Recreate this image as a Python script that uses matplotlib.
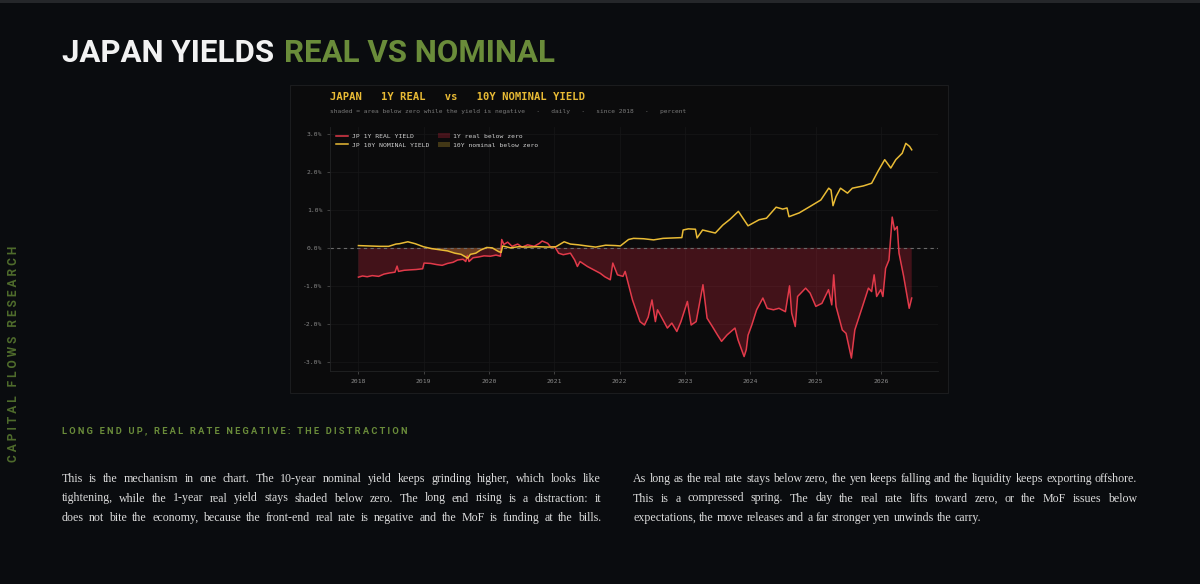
import matplotlib
matplotlib.use("Agg")
import matplotlib.pyplot as plt
import matplotlib.dates as mdates
import pandas as pd
from matplotlib.patches import Rectangle
from matplotlib.ticker import FuncFormatter

# JP 1Y real yield (percent)
real_dates = [
    "2018-01-02", "2018-01-25", "2018-02-20", "2018-03-20", "2018-04-25", "2018-05-25",
    "2018-06-25", "2018-07-25", "2018-08-06", "2018-08-14", "2018-09-15", "2018-10-15",
    "2018-11-20", "2018-12-27", "2019-01-04", "2019-02-10", "2019-03-15", "2019-04-15",
    "2019-05-15", "2019-06-15", "2019-07-10", "2019-08-10", "2019-08-25", "2019-09-03",
    "2019-09-12", "2019-10-05", "2019-11-05", "2019-12-05", "2020-01-10", "2020-02-10",
    "2020-03-06", "2020-03-13", "2020-03-25", "2020-04-15", "2020-05-10", "2020-06-10",
    "2020-07-05", "2020-08-05", "2020-09-10", "2020-10-10", "2020-10-25", "2020-11-25",
    "2020-12-10", "2021-01-05", "2021-01-25", "2021-02-20", "2021-04-01", "2021-04-25",
    "2021-05-10", "2021-05-25", "2021-07-05", "2021-08-10", "2021-09-15", "2021-10-10",
    "2021-11-10", "2021-11-24", "2021-12-20", "2022-01-20", "2022-02-01", "2022-03-14",
    "2022-04-25", "2022-05-20", "2022-06-10", "2022-07-01", "2022-07-20", "2022-08-01",
    "2022-09-25", "2022-10-20", "2022-11-17", "2022-12-10", "2023-01-15", "2023-02-05",
    "2023-03-05", "2023-04-12", "2023-05-05", "2023-06-01", "2023-07-02", "2023-07-25",
    "2023-08-25", "2023-10-08", "2023-10-25", "2023-11-28", "2023-12-10", "2023-12-20",
    "2024-01-10", "2024-02-06", "2024-03-12", "2024-04-05", "2024-05-10", "2024-06-10",
    "2024-07-16", "2024-08-08", "2024-08-20", "2024-09-09", "2024-09-22", "2024-11-06",
    "2024-12-01", "2025-01-02", "2025-02-05", "2025-03-14", "2025-04-01", "2025-04-12",
    "2025-04-25", "2025-05-30", "2025-06-20", "2025-07-20", "2025-08-08", "2025-09-20",
    "2025-10-23", "2025-11-10", "2025-11-24", "2025-12-08", "2025-12-31", "2026-01-12",
    "2026-01-27", "2026-02-15", "2026-03-05", "2026-03-18", "2026-04-02", "2026-04-12",
    "2026-05-08", "2026-06-08", "2026-06-22",
]
real_vals = [
    -0.77, -0.74, -0.76, -0.73, -0.75, -0.69,
    -0.66, -0.64, -0.48, -0.62, -0.59, -0.58,
    -0.57, -0.55, -0.40, -0.41, -0.44, -0.46,
    -0.41, -0.38, -0.32, -0.30, -0.36, -0.20,
    -0.36, -0.26, -0.24, -0.21, -0.22, -0.19,
    -0.22, 0.22, 0.09, 0.15, 0.04, 0.10,
    0.02, 0.08, 0.04, 0.12, 0.18, 0.12,
    0.03, 0.02, -0.14, -0.18, -0.14, -0.32,
    -0.49, -0.36, -0.49, -0.58, -0.67, -0.76,
    -0.84, -0.40, -0.71, -0.75, -0.62, -1.37,
    -1.94, -2.03, -1.82, -1.37, -1.94, -1.63,
    -2.11, -1.98, -2.20, -1.94, -1.41, -2.03,
    -1.94, -0.97, -1.85, -2.05, -2.29, -2.46,
    -2.29, -2.11, -2.42, -2.86, -2.68, -2.30,
    -2.03, -1.63, -1.32, -1.59, -1.63, -1.59,
    -1.68, -1.00, -1.72, -2.07, -1.28, -1.06,
    -1.19, -1.54, -1.46, -1.10, -1.50, -0.71,
    -1.54, -2.16, -2.25, -2.90, -2.16, -1.54,
    -1.06, -1.15, -0.71, -1.28, -1.10, -1.28,
    -0.54, -0.32, 0.81, 0.47, 0.56, -0.14,
    -0.75, -1.59, -1.32,
]

# JP 10Y nominal yield (percent)
nom_dates = [
    "2018-01-02", "2018-03-01", "2018-05-01", "2018-06-20", "2018-07-31", "2018-08-20",
    "2018-10-05", "2018-11-15", "2018-12-31", "2019-02-15", "2019-04-01", "2019-05-15",
    "2019-06-25", "2019-07-30", "2019-09-05", "2019-09-20", "2019-10-20", "2019-11-15",
    "2019-12-20", "2020-01-20", "2020-02-25", "2020-03-10", "2020-03-18", "2020-05-01",
    "2020-06-15", "2020-08-01", "2020-10-01", "2020-12-01", "2021-01-10", "2021-02-25",
    "2021-04-01", "2021-05-15", "2021-07-01", "2021-08-20", "2021-10-15", "2021-12-10",
    "2022-01-05", "2022-02-20", "2022-03-20", "2022-05-15", "2022-07-10", "2022-09-01",
    "2022-12-15", "2022-12-22", "2023-01-20", "2023-03-01", "2023-03-10", "2023-04-10",
    "2023-06-20", "2023-08-01", "2023-09-10", "2023-10-27", "2023-12-20", "2024-02-20",
    "2024-04-01", "2024-05-25", "2024-07-01", "2024-07-25", "2024-08-05", "2024-10-01",
    "2024-12-01", "2025-01-30", "2025-03-15", "2025-03-28", "2025-04-08", "2025-04-25",
    "2025-05-20", "2025-06-28", "2025-07-25", "2025-09-25", "2025-11-10", "2025-12-15",
    "2026-01-22", "2026-02-25", "2026-03-25", "2026-04-30", "2026-05-20", "2026-06-10",
    "2026-06-22",
]
nom_vals = [
    0.06, 0.05, 0.04, 0.04, 0.10, 0.11,
    0.16, 0.11, 0.03, -0.02, -0.05, -0.08,
    -0.14, -0.17, -0.27, -0.17, -0.14, -0.06,
    0.01, 0.00, -0.10, -0.12, 0.05, 0.00,
    0.03, 0.02, 0.03, 0.02, 0.03, 0.16,
    0.10, 0.08, 0.05, 0.02, 0.07, 0.06,
    0.05, 0.22, 0.25, 0.24, 0.21, 0.25,
    0.27, 0.47, 0.50, 0.49, 0.26, 0.47,
    0.39, 0.60, 0.75, 0.96, 0.58, 0.74,
    0.78, 1.07, 1.02, 1.05, 0.82, 0.92,
    1.09, 1.26, 1.57, 1.52, 1.11, 1.35,
    1.57, 1.44, 1.57, 1.63, 1.70, 2.01,
    2.32, 2.10, 2.32, 2.49, 2.75, 2.67,
    2.58,
]

legend_labels = ["JP 1Y REAL YIELD", "JP 10Y NOMINAL YIELD", "1Y real below zero", "10Y nominal below zero"]
y_ticks = [-3, -2, -1, 0, 1, 2, 3]

p1_lines = [
    "This is the mechanism in one chart. The 10-year nominal yield keeps grinding higher, which looks like",
    "tightening, while the 1-year real yield stays shaded below zero. The long end rising is a distraction: it",
    "does not bite the economy, because the front-end real rate is negative and the MoF is funding at the bills.",
]
p2_lines = [
    "As long as the real rate stays below zero, the yen keeps falling and the liquidity keeps exporting offshore.",
    "This is a compressed spring. The day the real rate lifts toward zero, or the MoF issues below",
    "expectations, the move releases and a far stronger yen unwinds the carry.",
]

BG = "#0a0c0f"
PANEL = "#0b0b0c"
RED = "#e23a4a"
GOLD = "#e9bb35"
GREEN = "#6a8c3a"
MONO = "DejaVu Sans Mono"
W, H = 1200, 584

real_x = pd.to_datetime(real_dates)
real_y = pd.Series(real_vals).to_numpy()
nom_x = pd.to_datetime(nom_dates)
nom_y = pd.Series(nom_vals).to_numpy()

fig = plt.figure(figsize=(12, 5.84), dpi=100, facecolor=BG)

# thin bar at the very top and the chart card (kept behind the axes)
fig.patches.append(Rectangle((0, 1 - 3 / H), 1, 3 / H, transform=fig.transFigure,
                             facecolor="#25272a", edgecolor="none", zorder=-2))
fig.patches.append(Rectangle((290 / W, 1 - 393 / H), 658 / W, 308 / H, transform=fig.transFigure,
                             facecolor=PANEL, edgecolor="#1b1c1e", lw=0.8, zorder=-2))

ax = fig.add_axes([330 / W, 1 - 371 / H, 608 / W, 244 / H])
ax.set_facecolor(PANEL)

f_real = ax.fill_between(real_x, real_y, 0, where=real_y < 0, interpolate=True,
                         color="#d8283f", alpha=0.27, lw=0)
f_nom = ax.fill_between(nom_x, nom_y, 0, where=nom_y < 0, interpolate=True,
                        color=GOLD, alpha=0.25, lw=0)
ax.axhline(0, color="#6a6a6a", lw=0.8, ls=(0, (3, 3)))
l_real, = ax.plot(real_x, real_y, color=RED, lw=1.1)
l_nom, = ax.plot(nom_x, nom_y, color=GOLD, lw=1.1)

ax.set_ylim(-3.24, 3.18)
ax.set_xlim(pd.Timestamp("2017-07-27"), pd.Timestamp("2026-11-16"))
ax.set_yticks(y_ticks)
ax.yaxis.set_major_formatter(FuncFormatter(lambda v, _: f"{v:.1f}%"))
ax.xaxis.set_major_locator(mdates.YearLocator())
ax.xaxis.set_major_formatter(mdates.DateFormatter("%Y"))
ax.tick_params(colors="#4a4a4a", labelcolor="#8a8a8a", labelsize=4.6, length=2, width=0.6)
for lab in ax.get_xticklabels() + ax.get_yticklabels():
    lab.set_fontfamily(MONO)
ax.grid(True, color="#171718", lw=0.5)
ax.set_axisbelow(True)
for side in ["top", "right"]:
    ax.spines[side].set_visible(False)
for side in ["left", "bottom"]:
    ax.spines[side].set_color("#222325")
    ax.spines[side].set_linewidth(0.6)

leg = ax.legend([l_real, l_nom, f_real, f_nom], legend_labels, ncol=2, loc="upper left",
                frameon=False, prop={"family": MONO, "size": 4.6}, handlelength=1.8,
                columnspacing=1.4, borderaxespad=0.6, handletextpad=0.6)
for t in leg.get_texts():
    t.set_color("#cfcfcf")

# chart header inside the card
fig.text(330 / W, 1 - 97 / H, "JAPAN   1Y REAL   vs   10Y NOMINAL YIELD", color=GOLD,
         family=MONO, weight="bold", fontsize=7.6, va="center")
fig.text(330 / W, 1 - 112 / H,
         "shaded = area below zero while the yield is negative   \u00b7   daily   \u00b7   since 2018   \u00b7   percent",
         color="#7a7a7a", family=MONO, fontsize=4.5, va="center")

# page title
fig.text(62 / W, 1 - 62 / H, "JAPAN YIELDS", color="#f2f2f2", family="Roboto",
         weight="bold", fontsize=22.5, va="baseline")
fig.text(284 / W, 1 - 62 / H, "REAL VS NOMINAL", color=GREEN, family="Roboto",
         weight="bold", fontsize=22.5, va="baseline")


def spaced(s):
    return "   ".join(" ".join(word) for word in s.split())


fig.text(14 / W, 1 - 354 / H, spaced("CAPITAL FLOWS RESEARCH"), color="#4f6c2c",
         family="Roboto", weight="bold", fontsize=8.6, rotation=90, ha="center", va="center")
fig.text(62 / W, 1 - 431 / H, spaced("LONG END UP, REAL RATE NEGATIVE: THE DISTRACTION"),
         color=GREEN, family="Roboto", weight="bold", fontsize=6.65, va="center")

renderer = fig.canvas.get_renderer()


def put_line(line, x0, x1, y, justify=True, size=8.6):
    words = line.split()
    texts = [fig.text(0, 1 - y / H, w, color="#dcdcdc", family="Liberation Serif",
                      fontsize=size, va="center") for w in words]
    widths = [t.get_window_extent(renderer).width for t in texts]
    if justify:
        gap = ((x1 - x0) - sum(widths)) / (len(words) - 1)
    else:
        gap = size * 0.25 * 100 / 72
    x = x0
    for t, w in zip(texts, widths):
        t.set_x(x / W)
        x += w + gap


row_y = [479, 498.5, 518]
for i, line in enumerate(p1_lines):
    put_line(line, 62, 601, row_y[i])
for i, line in enumerate(p2_lines):
    put_line(line, 633, 1137, row_y[i], justify=(i < 2))

fig.savefig("out.png", dpi=100, facecolor=BG)
